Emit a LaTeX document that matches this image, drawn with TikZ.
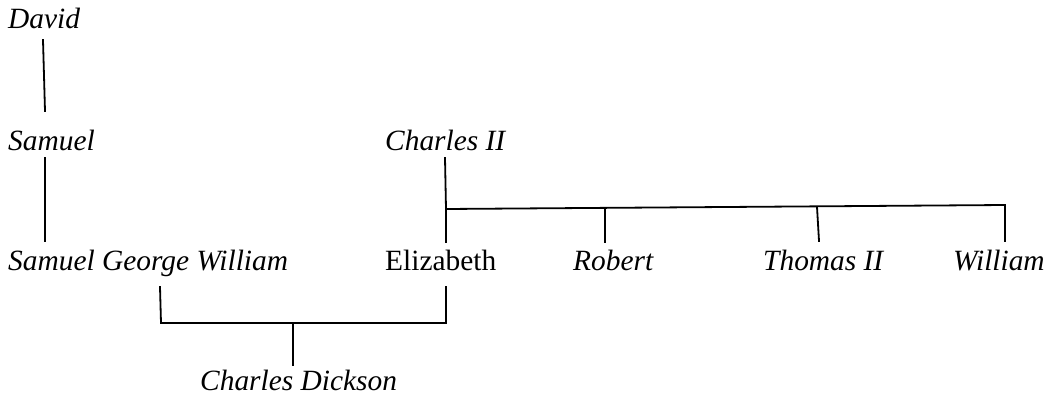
\documentclass[tikz,border=0pt]{standalone}
\usepackage{fontspec}
\setmainfont{Liberation Serif}
\begin{document}
\begin{tikzpicture}[x=1pt,y=-1pt,
  person/.style={anchor=base west, inner sep=0pt, font=\fontsize{29.4}{34}\selectfont\itshape},
  plainperson/.style={anchor=base west, inner sep=0pt, font=\fontsize{29.4}{34}\selectfont},
  link/.style={line width=1.8pt, line cap=rect}]
\useasboundingbox (0,0) rectangle (1048,401);
\node[person] (david) at (8,29) {David};
\node[person] (samuel) at (8,150) {Samuel};
\node[person] (sgw) at (8,270) {Samuel George William};
\node[person] (charles) at (385,150) {Charles II};
\node[plainperson] (eliz) at (385,270) {Elizabeth};
\node[person] (robert) at (573,270) {Robert};
\node[person] (thomas) at (763,270) {Thomas II};
\node[person] (william) at (953,270) {William};
\node[person] (dickson) at (200,390) {Charles Dickson};
% junction coordinates
\coordinate (d1) at (43,40);
\coordinate (d2) at (45,111);
\coordinate (s1) at (45,158);
\coordinate (s2) at (45,241);
\coordinate (c1) at (445,158);
\coordinate (cj) at (446,209);
\coordinate (c2) at (446,242);
\coordinate (cend) at (1005,205);
\coordinate (r1) at (605,209);
\coordinate (r2) at (605,242);
\coordinate (t1) at (817,207);
\coordinate (t2) at (819,241);
\coordinate (w2) at (1005,241);
\coordinate (g1) at (160,287);
\coordinate (g2) at (161,323);
\coordinate (e1) at (446,287);
\coordinate (e2) at (446,323);
\coordinate (m1) at (293,323);
\coordinate (m2) at (293,365);
\draw[link] (d1) -- (d2);
\draw[link] (s1) -- (s2);
\draw[link] (c1) -- (cj) -- (c2);
\draw[link] (cj) -- (cend) -- (w2);
\draw[link] (r1) -- (r2);
\draw[link] (t1) -- (t2);
\draw[link] (g1) -- (g2) -- (e2) -- (e1);
\draw[link] (m1) -- (m2);
\end{tikzpicture}
\end{document}
